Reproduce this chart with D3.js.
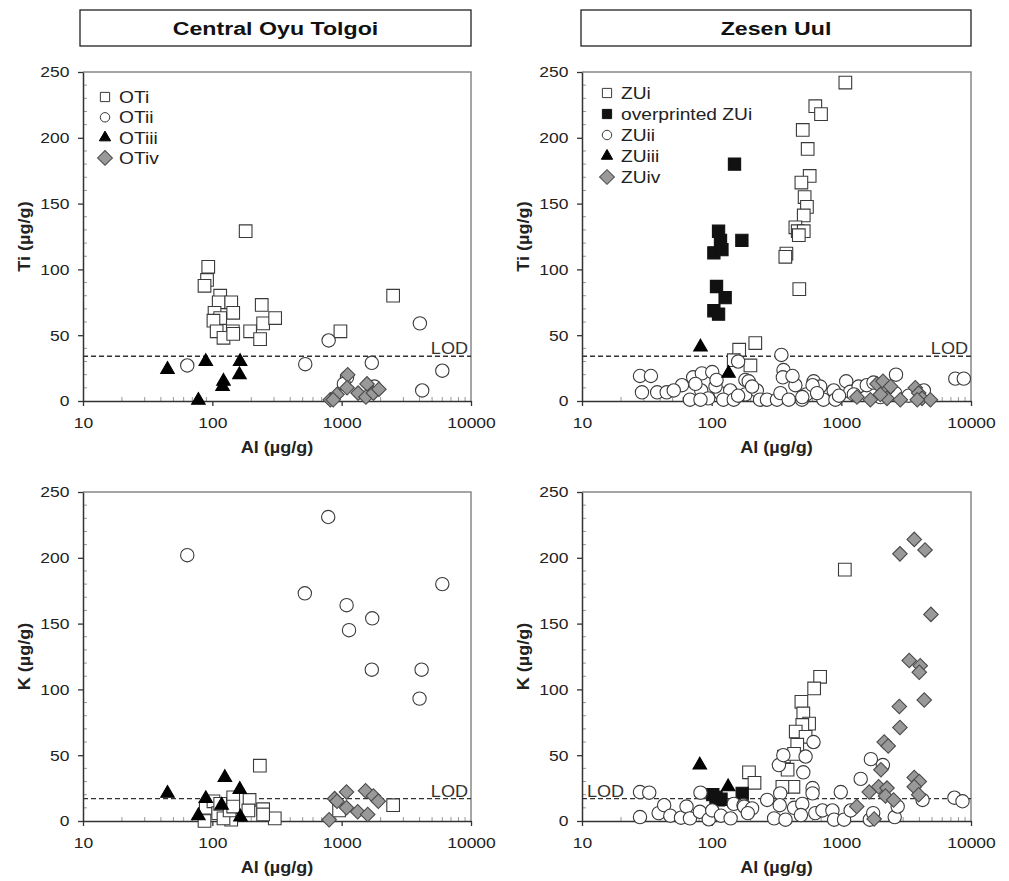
<!DOCTYPE html>
<html>
<head>
<meta charset="utf-8">
<script src="https://cdn.jsdelivr.net/npm/d3@7"></script>
<style>
  body { margin: 0; background: #fff; }
  svg { display: block; font-family: "Liberation Sans", Arial, sans-serif; }
</style>
</head>
<body>
<svg id="chart" width="1009" height="881"></svg>
<script>
// [Al, Ti] or [Al, K] in µg/g
var otiTi = [[181,129],[93,102],[91,92],[87,87.5],[115,80],[112,75],[140,75],[145,67],[104,67],[115,63],[102,61],[241,73],[247,59],[306,63],[108,53],[144,53],[122,48],[196,53],[234,47],[978,53],[2500,80],[145,51]];
var otiiTi = [[64,27],[523,28],[793,46],[1710,29],[4025,59],[4195,8],[6000,23],[1100,18],[1040,13],[1790,11]];
var otiiiTi = [[45,24],[78,0.5],[89,30],[122,15],[120,11],[164,30],[162,20]];
var otivTi = [[817,1],[920,5],[860,1],[1114,20],[1100,10],[1340,6],[1570,13],[1540,3],[1760,6],[1940,9]];

var otiK = [[233,42],[2500,12],[955,8],[304,2],[247,9],[194,16],[190,8],[145,18],[140,1],[87,0],[89,10],[102,15],[111,6],[115,13],[122,2],[136,8],[145,11],[247,5]];
var otiiK = [[64,202],[519,173],[787,231],[1092,164],[1140,145],[1723,154],[1710,115],[4150,115],[4000,93],[6000,180]];
var otiiiK = [[45,21],[78,4],[89,17],[125,33],[118,12],[163,24],[165,3]];
var otivK = [[800,1],[882,17],[920,15],[1090,22],[1090,10],[1330,7],[1530,23],[1590,5],[1760,19],[1920,15]];

var zuiTi = [[1074,242],[630,224],[697,218],[504,206],[550,191.5],[570,171],[492,166],[521,155],[543,147.5],[513,141],[442,132],[461,129],[513,129],[470,126],[377,112],[370,109.6],[474,85],[163,39],[217,44],[199,27],[148,31]];
var zuiOvTi = [[150,180],[171,122],[113,129],[117,122],[104,112.6],[120,115],[109,87],[127,78.5],[104,68.6],[113,66]];
var zuiiTi = [[28,19],[34,19],[29,6.6],[38,6.6],[45,6.6],[59,12],[72,18],[84,21],[101,22],[68,1],[83,8],[94,2],[117,6],[107,11],[139,8],[160,30],[182,16],[193,15],[182,5],[223,8],[236,1],[267,1],[319,1],[339,6],[345,35],[358,23.5],[354,18],[393,1],[442,12],[497,1],[537,5],[612,15],[687,11],[728,1],[873,8],[900,1],[1090,15],[1170,7],[1360,11],[1570,12],[1770,14],[2640,20],[2600,6],[4330,8],[7570,17],[8800,17],[82,1],[123,1],[148,1],[51,8],[109,16],[500,3],[600,12],[1250,5],[2000,3],[3300,4],[75,13],[160,4],[205,11],[420,19],[650,6],[960,4]];
var zuiiiTi = [[82,41],[135,21]];
var zuivTi = [[1320,3],[1675,1],[1885,13],[2095,15],[2250,8],[2250,2],[2850,1],[3720,10],[3950,6],[4190,2],[4860,1],[3850,1],[2000,5],[2400,11]];

var zuiK = [[1064,191],[686,109.6],[617,100.7],[492,90.6],[509,81.7],[564,74],[500,73],[445,68],[530,64],[457,58],[361,49],[432,51],[427,26],[351,26],[385,39],[194,37],[214,29]];
var zuiOvK = [[102,20],[113,16],[108,18],[118,16.5],[172,21]];
var zuiiK = [[28,22],[33,21.5],[28,3],[39,6],[43,12],[48,4],[58,2.5],[64,11],[68,2],[82,21.5],[81,7],[95,1.3],[101,8],[118,4],[140,2],[148,13],[176,12],[178,11],[205,9.6],[190,6],[268,16],[303,2],[330,42.5],[338,21],[335,12],[371,1],[357,50],[432,10],[500,13],[488,4.5],[509,37],[530,49],[610,60],[600,25],[600,21],[630,6],[715,8],[853,8],[880,1],[990,22],[1050,1],[1180,8],[1410,32],[1690,47],[1660,1],[1760,6],[2090,42.5],[2580,3],[2720,11],[4230,16],[7450,17.7],[8600,15]];
var zuiiiK = [[81,42.5],[134,26]];
var zuivK = [[3650,214],[2830,203],[4420,206],[4910,157],[3340,122],[4060,118],[3990,113],[4360,92],[2800,87],[2830,71],[2140,60],[2300,57],[2020,39],[1940,26],[1640,22],[2250,25],[2190,19],[2530,16],[1315,11],[1790,1.5],[3650,33],[3990,30],[3650,26],[3950,20]];

var titles = ['Central Oyu Tolgoi', 'Zesen Uul'];
var otLabels = ['OTi', 'OTii', 'OTiii', 'OTiv'];
var zuLabels = ['ZUi', 'overprinted ZUi', 'ZUii', 'ZUiii', 'ZUiv'];
var yTicks = [0, 50, 100, 150, 200, 250];
var xTicks = [10, 100, 1000, 10000];
var lodTi = 34;
var lodK = 17;

var svg = d3.select('#chart');

// the original figure's lettering is a bit wide, so text gets stretched sideways
var wide = 1.13;

// marker styles
var styles = {
  openSquare: { type: d3.symbolSquare, size: 160, legendSize: 85, fill: '#fff', stroke: '#3a3a3a', rot: 0 },
  fillSquare: { type: d3.symbolSquare, size: 150, legendSize: 85, fill: '#111', stroke: '#111', rot: 0 },
  circle: { type: d3.symbolCircle, size: 140, legendSize: 70, fill: '#fff', stroke: '#3a3a3a', rot: 0 },
  triangle: { type: d3.symbolTriangle, size: 80, legendSize: 55, fill: '#000', stroke: '#000', rot: 0 },
  diamond: { type: d3.symbolSquare, size: 105, legendSize: 110, fill: '#999', stroke: '#4a4a4a', rot: 45 }
};

var drawPanel = function(opts) {
  var x = d3.scaleLog().domain([10, 10000]).range([opts.x0, opts.x1]);
  var y = d3.scaleLinear().domain([0, 250]).range([opts.y1, opts.y0]);
  var g = svg.append('g');

  // frame (top + right)
  g.append('path')
    .attr('d', 'M' + opts.x0 + ',' + opts.y0 + 'H' + opts.x1 + 'V' + opts.y1)
    .attr('fill', 'none').attr('stroke', '#888').attr('stroke-width', 1.5);

  // minor ticks
  var minorY = d3.range(10, 250, 10).filter(function(v) { return v % 50 !== 0; });
  g.selectAll('.my').data(minorY).enter().append('line')
    .attr('x1', opts.x0).attr('x2', opts.x0 + 4)
    .attr('y1', function(d) { return y(d); }).attr('y2', function(d) { return y(d); })
    .attr('stroke', '#999').attr('stroke-width', 1);
  var minorX = [];
  [10, 100, 1000].forEach(function(dec) {
    for (var k = 2; k <= 9; k++) minorX.push(dec * k);
  });
  g.selectAll('.mx').data(minorX).enter().append('line')
    .attr('x1', function(d) { return x(d); }).attr('x2', function(d) { return x(d); })
    .attr('y1', opts.y1).attr('y2', opts.y1 - 4)
    .attr('stroke', '#999').attr('stroke-width', 1);

  // axes
  var ax = g.append('g')
    .attr('transform', 'translate(0,' + opts.y1 + ')')
    .call(d3.axisBottom(x).tickValues(xTicks).tickFormat(d3.format('d')).tickSizeInner(5).tickSizeOuter(0).tickPadding(11));
  var ay = g.append('g')
    .attr('transform', 'translate(' + opts.x0 + ',0)')
    .call(d3.axisLeft(y).tickValues(yTicks).tickSizeInner(5).tickSizeOuter(0).tickPadding(7));
  [ax, ay].forEach(function(a) {
    a.select('.domain').attr('stroke', '#333').attr('stroke-width', 1.5);
    a.selectAll('.tick line').attr('stroke', '#333').attr('stroke-width', 1.3);
    a.selectAll('.tick text').attr('font-size', 15.5).attr('fill', '#222')
      .attr('font-family', '"Liberation Sans", Arial, sans-serif')
      .attr('transform', 'scale(' + wide + ',1)');
  });

  // axis titles
  g.append('text')
    .attr('transform', 'translate(' + ((opts.x0 + opts.x1) / 2) + ',' + (opts.y1 + 52) + ') scale(' + wide + ',1)')
    .attr('text-anchor', 'middle').attr('font-size', 16).attr('font-weight', 'bold').attr('fill', '#222')
    .text('Al (µg/g)');
  g.append('text')
    .attr('transform', 'translate(' + (opts.x0 - 53) + ',' + ((opts.y0 + opts.y1) / 2) + ') rotate(-90) scale(' + wide + ',1)')
    .attr('text-anchor', 'middle').attr('font-size', 16).attr('font-weight', 'bold').attr('fill', '#222')
    .text(opts.yLabel);

  // LOD line
  g.append('line')
    .attr('x1', opts.x0).attr('x2', opts.x1)
    .attr('y1', y(opts.lod)).attr('y2', y(opts.lod))
    .attr('stroke', '#333').attr('stroke-width', 1.4).attr('stroke-dasharray', '5,3');
  g.append('text')
    .attr('transform', 'translate(' + (opts.lodLeft ? opts.x0 + 5 : opts.x1 - 3) + ',' + (y(opts.lod) - 2) + ') scale(' + wide + ',1)')
    .attr('text-anchor', opts.lodLeft ? 'start' : 'end')
    .attr('font-size', 16).attr('fill', '#333')
    .text('LOD');

  // data
  opts.series.forEach(function(s) {
    var st = styles[s.style];
    g.append('g').selectAll('path').data(s.data).enter().append('path')
      .attr('d', d3.symbol().type(st.type).size(st.size))
      .attr('transform', function(d) { return 'translate(' + x(d[0]) + ',' + y(d[1]) + ') rotate(' + st.rot + ')'; })
      .attr('fill', st.fill).attr('stroke', st.stroke).attr('stroke-width', 1.1);
  });

  // legend
  if (opts.legend) {
    opts.legend.items.forEach(function(it, i) {
      var st = styles[it.style];
      var cy = opts.legend.y + i * opts.legend.dy;
      g.append('path')
        .attr('d', d3.symbol().type(st.type).size(st.legendSize))
        .attr('transform', 'translate(' + opts.legend.x + ',' + cy + ') rotate(' + st.rot + ')')
        .attr('fill', st.fill).attr('stroke', st.stroke).attr('stroke-width', 1);
      g.append('text')
        .attr('transform', 'translate(' + (opts.legend.x + 14) + ',' + (cy + 6) + ') scale(' + wide + ',1)')
        .attr('font-size', 17).attr('fill', '#222')
        .text(it.label);
    });
  }
};

// column titles
var titleBoxes = [{ x0: 80, x1: 471 }, { x0: 581, x1: 971 }];
titleBoxes.forEach(function(b, i) {
  svg.append('rect')
    .attr('x', b.x0).attr('y', 10).attr('width', b.x1 - b.x0).attr('height', 36)
    .attr('fill', '#fff').attr('stroke', '#222').attr('stroke-width', 1.3);
  svg.append('text')
    .attr('transform', 'translate(' + ((b.x0 + b.x1) / 2) + ',35) scale(1.22,1)')
    .attr('text-anchor', 'middle').attr('font-size', 19).attr('font-weight', 'bold').attr('fill', '#111')
    .text(titles[i]);
});

var otStyles = ['openSquare', 'circle', 'triangle', 'diamond'];
var zuStyles = ['openSquare', 'fillSquare', 'circle', 'triangle', 'diamond'];

drawPanel({
  x0: 83, x1: 471, y0: 72, y1: 401, yLabel: 'Ti (µg/g)', lod: lodTi,
  series: [
    { style: 'openSquare', data: otiTi },
    { style: 'circle', data: otiiTi },
    { style: 'triangle', data: otiiiTi },
    { style: 'diamond', data: otivTi }
  ],
  legend: { x: 105, y: 97, dy: 20.3, items: otLabels.map(function(l, i) { return { label: l, style: otStyles[i] }; }) }
});

drawPanel({
  x0: 582, x1: 971, y0: 72, y1: 401, yLabel: 'Ti (µg/g)', lod: lodTi,
  series: [
    { style: 'openSquare', data: zuiTi },
    { style: 'fillSquare', data: zuiOvTi },
    { style: 'circle', data: zuiiTi },
    { style: 'triangle', data: zuiiiTi },
    { style: 'diamond', data: zuivTi }
  ],
  legend: { x: 607, y: 93, dy: 21, items: zuLabels.map(function(l, i) { return { label: l, style: zuStyles[i] }; }) }
});

drawPanel({
  x0: 83, x1: 471, y0: 492, y1: 821, yLabel: 'K (µg/g)', lod: lodK,
  series: [
    { style: 'openSquare', data: otiK },
    { style: 'circle', data: otiiK },
    { style: 'triangle', data: otiiiK },
    { style: 'diamond', data: otivK }
  ]
});

drawPanel({
  x0: 582, x1: 971, y0: 492, y1: 821, yLabel: 'K (µg/g)', lod: lodK, lodLeft: true,
  series: [
    { style: 'openSquare', data: zuiK },
    { style: 'fillSquare', data: zuiOvK },
    { style: 'circle', data: zuiiK },
    { style: 'triangle', data: zuiiiK },
    { style: 'diamond', data: zuivK }
  ]
});
</script>
</body>
</html>
